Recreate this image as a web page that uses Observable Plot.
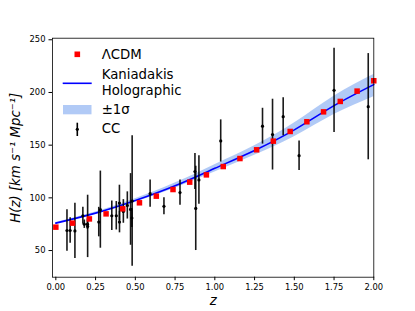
<!DOCTYPE html>
<html><head><meta charset="utf-8">
<script src="https://cdn.jsdelivr.net/npm/d3@7"></script>
<script src="https://cdn.jsdelivr.net/npm/@observablehq/plot@0.6"></script>
<style>
body{margin:0;background:#fff;}
#wrap{position:relative;width:415px;height:311px;font-family:"DejaVu Sans",sans-serif;}
#legend{position:absolute;left:0;top:0;}
</style></head><body><div id="wrap"></div>
<script>
// Cosmic chronometer data
const ccZ = [0.07,0.09,0.12,0.17,0.179,0.199,0.20,0.27,0.28,0.352,0.3802,0.4,0.4004,0.4247,0.4497,0.47,0.4783,0.48,0.593,0.68,0.781,0.875,0.88,0.9,1.037,1.3,1.363,1.43,1.53,1.75,1.965];
const ccH = [69.0,69.0,68.6,83.0,75.0,75.0,72.9,77.0,88.8,83.0,83.0,95.0,77.0,87.1,92.8,89.0,80.9,97.0,104.0,92.0,105.0,125.0,90.0,117.0,154.0,168.0,160.0,177.0,140.0,202.0,186.5];
const ccErr = [19.6,12.0,26.2,8.0,4.0,5.0,29.6,14.0,36.6,14.0,13.5,17.0,10.2,11.2,12.9,34.0,9.0,62.0,13.0,8.0,12.0,17.0,40.0,23.0,20.0,17.0,33.6,18.0,14.0,40.0,50.4];
// LambdaCDM
const lcdmZ = [0,0.105,0.211,0.316,0.421,0.526,0.632,0.737,0.842,0.947,1.053,1.158,1.263,1.368,1.474,1.579,1.684,1.789,1.895,2.0];
const lcdmH = [72.2,76,80,84.8,89.6,95.3,101.6,107.9,114.9,121.8,129.7,137.3,145.6,153.8,163,172.2,181.6,191.5,201.3,211.1];
// Kaniadakis holographic + 1 sigma band
const kanZ = [0,0.25,0.5,0.75,1.0,1.25,1.5,1.75,2.0];
const kanH = [76,85.5,97.5,111.5,128,145,164.5,187.5,207.5];
const kanLo = [75.3,84.5,95.8,109,124.5,140.5,158,179,196];
const kanHi = [76.7,86.5,99.2,114,131.5,149.5,171,196.5,217];
// ticks and labels
const xTicks = [0,0.25,0.5,0.75,1.0,1.25,1.5,1.75,2.0];
const yTicks = [50,100,150,200,250];
const xLabel = "z";
const yLabel = "H(z) [km s\u207B\u00B9 Mpc\u207B\u00B9]";
const legendLabels = ["\u039BCDM","Kaniadakis","Holographic","\u00B11\u03C3","CC"];

const cc = ccZ.map((z,i)=>({z, H: ccH[i], e: ccErr[i]}));
const lcdm = lcdmZ.map((z,i)=>({z, H: lcdmH[i]}));
const kan = kanZ.map((z,i)=>({z, H: kanH[i], lo: kanLo[i], hi: kanHi[i]}));

const chart = Plot.plot({
  width: 415, height: 311,
  marginLeft: 52, marginRight: 41.7, marginTop: 37.7, marginBottom: 34.3,
  x: {domain: [-0.021, 2.0]},
  y: {domain: [24.7, 251.5]},
  style: {fontFamily: "DejaVu Sans", background: "white", color: "black"},
  marks: [
    Plot.areaY(kan, {x:"z", y1:"lo", y2:"hi", fill:"#6495ed", fillOpacity:0.5, curve:"natural"}),
    Plot.line(kan, {x:"z", y:"H", stroke:"#0000ff", strokeWidth:1.6, curve:"natural"}),
    Plot.ruleX(cc, {x:"z", y1: d=>d.H-d.e, y2: d=>d.H+d.e, stroke:"black", strokeWidth:1.6, strokeOpacity:0.9}),
    Plot.dot(cc, {x:"z", y:"H", r:1.6, fill:"black"}),
    Plot.dot(lcdm, {x:"z", y:"H", symbol:"square", r:3.1, fill:"#ff0000"}),
    Plot.frame({stroke:"black", strokeWidth:0.8}),
    Plot.axisX({ticks: xTicks, tickFormat: d3.format(".2f"), tickSize:3.5, tickPadding:3, fontSize:8.4, label:null}),
    Plot.axisY({ticks: yTicks, tickSize:3.5, tickPadding:3.5, fontSize:8.4, label:null}),
    Plot.text([yLabel], {text: d=>d, frameAnchor:"left", textAnchor:"middle", lineAnchor:"middle", rotate:-90, dx:-36.5, fontSize:13.3, fontStyle:"italic"}),
    Plot.text([xLabel], {text: d=>d, frameAnchor:"bottom", textAnchor:"middle", lineAnchor:"middle", dy:23.5, fontSize:13.3, fontStyle:"italic"})
  ]
});
const wrap = document.getElementById("wrap");
wrap.appendChild(chart);

// legend overlay
const lg = d3.select(wrap).append("svg").attr("id","legend").attr("width",415).attr("height",311)
  .style("font-family","DejaVu Sans").style("font-size","13.3px");
lg.append("rect").attr("x",74.5).attr("y",51.5).attr("width",5.6).attr("height",5.6).attr("fill","#ff0000");
lg.append("line").attr("x1",62.7).attr("x2",91.7).attr("y1",83.3).attr("y2",83.3).attr("stroke","#0000ff").attr("stroke-width",1.6);
lg.append("rect").attr("x",63).attr("y",105).attr("width",28.5).attr("height",9.3).attr("fill","#6495ed").attr("fill-opacity",0.5);
lg.append("line").attr("x1",77.3).attr("x2",77.3).attr("y1",122.7).attr("y2",136).attr("stroke","black").attr("stroke-width",1.6);
lg.append("circle").attr("cx",77.3).attr("cy",129.3).attr("r",1.6).attr("fill","black");
const ty = [59, 79, 95, 114, 133.3];
legendLabels.forEach((t,i)=>{
  lg.append("text").attr("x",101.7).attr("y",ty[i]).text(t);
});
</script></body></html>
